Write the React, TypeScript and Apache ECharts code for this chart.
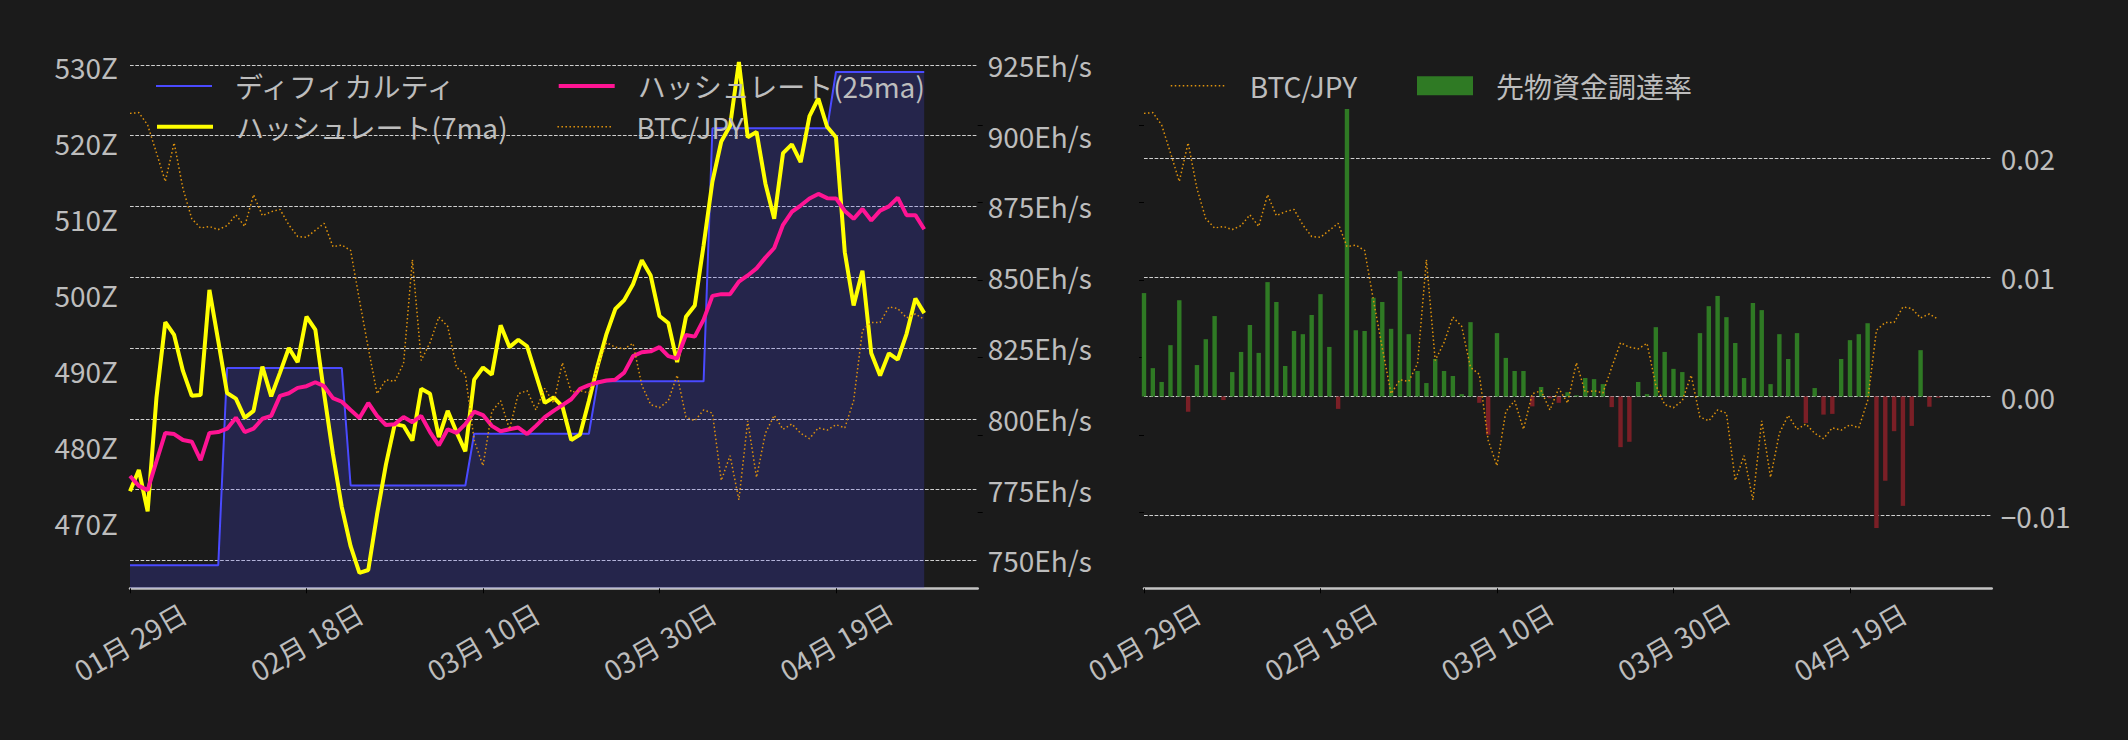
import React, { useEffect, useRef } from 'react';
import * as echarts from 'echarts';

// ---- data (day index 0 = 2025-01-29) ----
const startDate = { y: 2025, m: 0, d: 29 };
const xTickDays = [0, 20, 40, 60, 80];

const difficultyZ = [
  464.4, 464.4, 464.4, 464.4, 464.4, 464.4, 464.4, 464.4, 464.4, 464.4, 464.4,
  490.35, 490.35, 490.35, 490.35, 490.35, 490.35, 490.35, 490.35, 490.35, 490.35, 490.35, 490.35, 490.35, 490.35,
  474.9, 474.9, 474.9, 474.9, 474.9, 474.9, 474.9, 474.9, 474.9, 474.9, 474.9, 474.9, 474.9, 474.9,
  481.7, 481.7, 481.7, 481.7, 481.7, 481.7, 481.7, 481.7, 481.7, 481.7, 481.7, 481.7, 481.7, 481.7,
  488.6, 488.6, 488.6, 488.6, 488.6, 488.6, 488.6, 488.6, 488.6, 488.6, 488.6, 488.6, 488.6,
  521.9, 521.9, 521.9, 521.9, 521.9, 521.9, 521.9, 521.9, 521.9, 521.9, 521.9, 521.9, 521.9, 521.9,
  529.3, 529.3, 529.3, 529.3, 529.3, 529.3, 529.3, 529.3, 529.3, 529.3, 529.3,
];

const hashrate7ma = [
  774.4, 781.9, 767.3, 807.5, 834.1, 829.6, 816.9, 808.1, 808.4, 845.5,
  827.5, 809.1, 807.1, 800.3, 802.8, 818.4, 807.9, 816.3, 825.0, 820.0,
  836.1, 831.5, 808.8, 787.5, 768.8, 755.0, 745.6, 746.6, 766.3, 783.8,
  798.1, 797.5, 792.3, 810.6, 808.8, 793.5, 802.8, 795.3, 788.5, 813.8,
  818.1, 815.6, 833.0, 825.3, 827.9, 825.6, 815.6, 805.6, 807.5, 804.4,
  792.5, 794.4, 806.3, 818.8, 830.0, 838.8, 841.9, 847.5, 856.0, 850.6,
  836.3, 833.8, 820.0, 836.0, 840.0, 861.3, 883.8, 897.9, 903.5, 926.0,
  899.4, 901.3, 883.1, 870.6, 893.8, 896.9, 890.6, 906.9, 913.1, 903.1,
  899.4, 858.8, 840.0, 852.3, 823.1, 815.3, 823.1, 820.9, 830.0, 842.5, 837.3,
];

const hashrate25ma = [
  779.8, 776.3, 774.8, 785.0, 795.0, 794.6, 792.5, 791.9, 785.4, 795.0,
  795.3, 796.5, 800.4, 795.3, 796.5, 800.0, 801.0, 808.1, 809.0, 810.9,
  811.5, 812.9, 811.5, 807.3, 806.0, 803.1, 800.3, 805.6, 801.0, 797.8,
  798.1, 800.6, 798.8, 801.0, 795.3, 790.6, 796.3, 795.0, 798.1, 802.5,
  801.3, 797.5, 795.6, 796.3, 796.9, 794.6, 797.5, 800.6, 802.8, 804.8,
  806.9, 810.6, 811.9, 812.8, 813.5, 813.8, 816.3, 822.1, 823.5, 823.8,
  825.3, 822.1, 821.3, 829.6, 829.0, 835.0, 843.4, 844.0, 844.0, 848.4,
  850.6, 853.1, 856.9, 860.3, 868.5, 873.1, 875.3, 877.8, 879.4, 877.9,
  877.8, 873.4, 870.6, 874.1, 870.0, 873.5, 875.0, 878.1, 871.9, 871.9, 866.9,
];

// BTC/JPY in millions of yen
const btcJpy = [
  16.15, 16.16, 16.0, 15.64, 15.27, 15.77, 15.18, 14.79, 14.67, 14.69,
  14.65, 14.7, 14.84, 14.69, 15.1, 14.83, 14.88, 14.91, 14.71, 14.56,
  14.55, 14.64, 14.73, 14.43, 14.45, 14.38, 13.74, 13.12, 12.53, 12.71,
  12.69, 12.92, 14.26, 12.96, 13.19, 13.52, 13.4, 12.87, 12.78, 11.93,
  11.6, 12.3, 12.44, 12.07, 12.53, 12.57, 12.32, 12.6, 12.41, 12.93,
  12.55, 12.57, 12.54, 12.87, 13.19, 13.13, 13.11, 13.18, 12.64, 12.39,
  12.35, 12.44, 12.77, 12.23, 12.18, 12.32, 12.28, 11.41, 11.73, 11.16,
  12.18, 11.45, 12.02, 12.25, 12.07, 12.14, 12.02, 11.95, 12.09, 12.06,
  12.13, 12.09, 12.44, 13.35, 13.45, 13.45, 13.65, 13.63, 13.51, 13.56, 13.49,
];

const fundingRate = [
  0.00868, 0.00238, 0.00122, 0.00431, 0.00808, -0.00128, 0.00264, 0.00481, 0.00675, -0.0003,
  0.00205, 0.00374, 0.006, 0.00366, 0.0096, 0.00793, 0.00256, 0.0055, 0.00523, 0.00684,
  0.00859, 0.00416, -0.00104, 0.02413, 0.00556, 0.0055, 0.00829, 0.00793, 0.00568, 0.01052,
  0.00523, 0.00214, 0.00113, 0.00315, 0.00214, 0.00172, 0.0002, 0.00624, -0.00053, -0.00321,
  0.00532, 0.00324, 0.00214, 0.00214, -0.00083, 0.0008, -0.00015, -0.00053, 0.00036, 0.0001,
  0.00155, 0.00146, 0.00104, -0.00089, -0.00425, -0.0038, 0.00122, 0.0002, 0.00582, 0.00374,
  0.00232, 0.00205, 0.0, 0.00532, 0.00758, 0.00844, 0.00666, 0.00449, 0.00155, 0.00785,
  0.00725, 0.00104, 0.00523, 0.00315, 0.00532, -0.00223, 0.00071, -0.00152, -0.00146, 0.00315,
  0.00473, 0.00523, 0.00615, -0.01103, -0.00707, -0.00291, -0.00918, -0.00247, 0.00389, -0.00086, -0.0001,
];

const zTicks = [470, 480, 490, 500, 510, 520, 530];
const ehTicks = [750, 775, 800, 825, 850, 875, 900, 925];
const fundingTicks = [-0.01, 0, 0.01, 0.02];
const btcTicks = [11, 12, 13, 14, 15, 16];

// ---- styles ----
const FONT = "'Noto Sans CJK JP', 'Noto Sans', sans-serif";
const TEXT = '#bdbdbd';
const BG = '#1b1b1b';
const GRID_COLOR = '#cfcfcf';
const BLUE = '#4a4aff';
const YELLOW = '#ffff00';
const PINK = '#ff1493';
const ORANGE = '#e0930c';
const GREEN = '#2f7a24';
const RED = '#7a1f26';
const BTC_DASH = [1.5, 2.5];

function dateLabel(d: number): string {
  const dt = new Date(Date.UTC(startDate.y, startDate.m, startDate.d + Math.round(d)));
  const mm = String(dt.getUTCMonth() + 1).padStart(2, '0');
  const dd = String(dt.getUTCDate()).padStart(2, '0');
  return `${mm}月 ${dd}日`;
}

function fmtFunding(v: number): string {
  const s = Math.abs(v) < 1e-9 ? '0.00' : v.toFixed(2);
  return s.replace('-', '\u2212');
}

const toXY = (arr: number[]) => arr.map((v, i) => [i, v]);

export default function App() {
  const ref = useRef<HTMLDivElement>(null);

  useEffect(() => {
    document.body.style.margin = '0';
    document.body.style.background = BG;
    if (!ref.current) return;
    const chart = echarts.init(ref.current, undefined, { renderer: 'svg' });

    const axisLabelBase = { color: TEXT, fontSize: 28, fontFamily: FONT };
    const xAxisFor = (g: number) => ({
      type: 'value',
      gridIndex: g,
      min: 0,
      max: 96.06,
      axisLine: { show: true, onZero: false, lineStyle: { color: '#c4c4c4', width: 2.5 } },
      axisTick: { show: true, customValues: xTickDays, length: 5, lineStyle: { color: '#000', width: 1 } },
      axisLabel: {
        ...axisLabelBase,
        customValues: xTickDays,
        formatter: (v: number) => dateLabel(v),
        rotate: 30,
        align: 'center',
        verticalAlign: 'middle',
        margin: 53,
      },
      splitLine: { show: false },
    });

    const legendBase = {
      orient: 'horizontal',
      padding: 0,
      itemGap: 0,
      itemWidth: 56,
      itemHeight: 14,
      selectedMode: false,
      textStyle: { color: TEXT, fontSize: 28, fontFamily: FONT, lineHeight: 28, padding: [0, 0, 0, 18] },
    };
    const lineLegend = (width: number, color: string, type: any = 'solid') => ({
      ...legendBase,
      itemStyle: { opacity: 0 },
      lineStyle: { width, color, type },
    });

    const btcLine = (xi: number, yi: number) => ({
      name: 'BTC/JPY',
      type: 'line',
      xAxisIndex: xi,
      yAxisIndex: yi,
      data: toXY(btcJpy),
      symbol: 'none',
      lineStyle: { color: ORANGE, width: 1.5, type: BTC_DASH },
      itemStyle: { color: ORANGE },
      z: 6,
    });

    chart.setOption({
      animation: false,
      backgroundColor: BG,
      textStyle: { fontFamily: FONT },
      grid: [
        { left: 130, top: 47, width: 847.7, height: 541.3, containLabel: false, outerBoundsMode: 'none' },
        { left: 1144, top: 47, width: 847.7, height: 541.3, containLabel: false, outerBoundsMode: 'none' },
      ],
      xAxis: [xAxisFor(0), xAxisFor(1)],
      yAxis: [
        {
          type: 'value', gridIndex: 0, position: 'left', min: 461.37, max: 532.59,
          axisLine: { show: false },
          axisTick: { show: false, customValues: zTicks },
          axisLabel: { ...axisLabelBase, customValues: zTicks, formatter: (v: number) => `${v}Z`, margin: 12 },
          splitLine: { show: false },
        },
        {
          type: 'value', gridIndex: 0, position: 'right', min: 740.13, max: 931.28,
          axisLine: { show: false },
          axisTick: { show: false, customValues: ehTicks },
          axisLabel: { ...axisLabelBase, customValues: ehTicks, formatter: (v: number) => `${v}Eh/s`, margin: 10 },
          splitLine: { show: true, lineStyle: { color: GRID_COLOR, width: 1, type: [3.7, 1.6] } },
        },
        {
          type: 'value', gridIndex: 0, position: 'right', min: 10.018, max: 17.007,
          axisLine: { show: false },
          axisTick: { show: true, customValues: btcTicks, length: 5, lineStyle: { color: '#000', width: 1 } },
          axisLabel: { show: false },
          splitLine: { show: false },
        },
        {
          type: 'value', gridIndex: 1, position: 'right', min: -0.016097, max: 0.029333,
          axisLine: { show: false },
          axisTick: { show: false, customValues: fundingTicks },
          axisLabel: { ...axisLabelBase, customValues: fundingTicks, formatter: fmtFunding, margin: 9 },
          splitLine: { show: true, lineStyle: { color: GRID_COLOR, width: 1, type: [3.7, 1.6] } },
        },
        {
          type: 'value', gridIndex: 1, position: 'left', min: 10.018, max: 17.007,
          axisLine: { show: false },
          axisTick: { show: true, customValues: btcTicks, length: 5, lineStyle: { color: '#000', width: 1 } },
          axisLabel: { show: false },
          splitLine: { show: false },
        },
      ],
      legend: [
        { ...lineLegend(2, BLUE), data: ['ディフィカルティ'], left: 155, top: 72 },
        { ...lineLegend(4, YELLOW), data: ['ハッシュレート(7ma)'], left: 155, top: 112.7 },
        { ...lineLegend(4, PINK), data: ['ハッシュレート(25ma)'], left: 556.7, top: 72 },
        { ...lineLegend(1.5, ORANGE, BTC_DASH), data: ['BTC/JPY'], left: 556.7, top: 112.7 },
        { ...lineLegend(1.5, ORANGE, BTC_DASH), data: ['BTC/JPY'], left: 1170, top: 71.7 },
        { ...legendBase, data: [{ name: '先物資金調達率', icon: 'rect' }], left: 1417, top: 71.7, itemHeight: 19 },
      ],
      series: [
        {
          name: 'ディフィカルティ',
          type: 'line',
          xAxisIndex: 0,
          yAxisIndex: 0,
          data: toXY(difficultyZ),
          symbol: 'none',
          lineStyle: { color: BLUE, width: 2 },
          itemStyle: { color: BLUE },
          areaStyle: { color: 'rgba(74,74,255,0.3)', origin: 'start' },
          z: 2,
        },
        {
          name: 'ハッシュレート(7ma)',
          type: 'line',
          xAxisIndex: 0,
          yAxisIndex: 1,
          data: toXY(hashrate7ma),
          symbol: 'none',
          lineStyle: { color: YELLOW, width: 4 },
          itemStyle: { color: YELLOW },
          z: 3,
        },
        {
          name: 'ハッシュレート(25ma)',
          type: 'line',
          xAxisIndex: 0,
          yAxisIndex: 1,
          data: toXY(hashrate25ma),
          symbol: 'none',
          lineStyle: { color: PINK, width: 4 },
          itemStyle: { color: PINK },
          z: 4,
        },
        btcLine(0, 2),
        {
          name: '先物資金調達率',
          type: 'bar',
          xAxisIndex: 1,
          yAxisIndex: 3,
          data: fundingRate.map((v, i) => (v < 0 ? { value: [i, v], itemStyle: { color: RED } } : { value: [i, v] })),
          barWidth: 4.4,
          itemStyle: { color: GREEN },
          z: 2,
        },
        btcLine(1, 4),
      ],
    });

    return () => chart.dispose();
  }, []);

  return (
    <div
      ref={ref}
      style={{ position: 'absolute', left: 0, top: 0, width: 2128, height: 740, background: BG }}
    />
  );
}
